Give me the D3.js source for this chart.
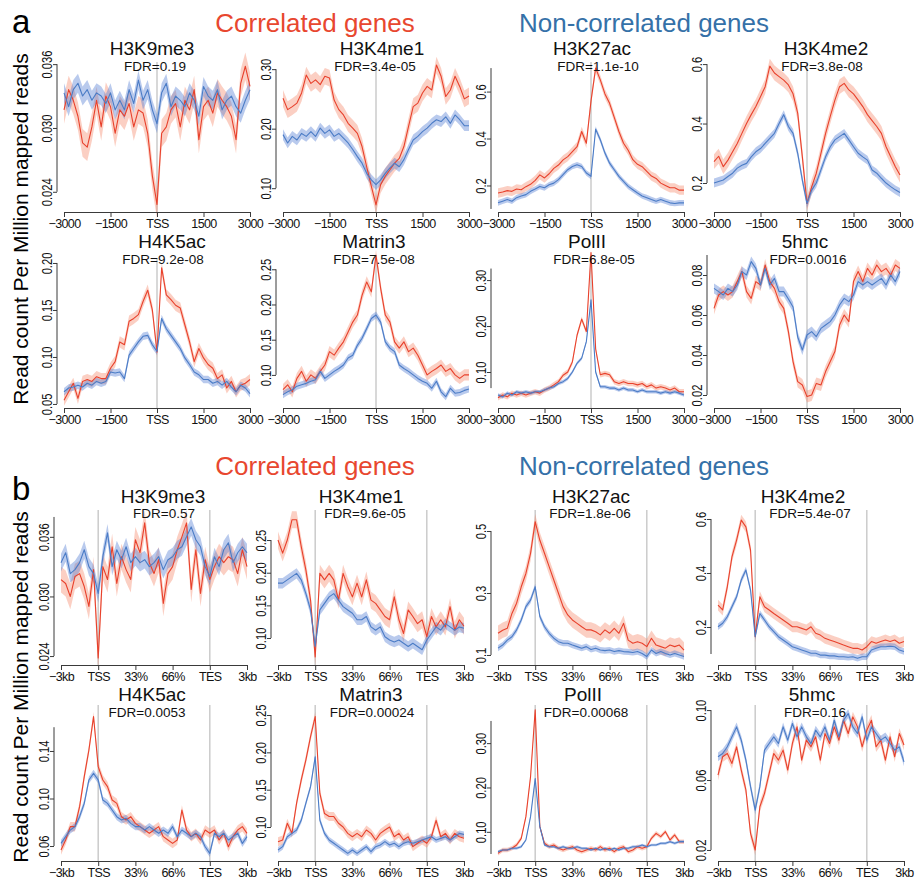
<!DOCTYPE html>
<html>
<head>
<meta charset="utf-8">
<script src="https://cdn.jsdelivr.net/npm/d3@7"></script>
<style>
  body { margin: 0; background: #fff; }
  svg { font-family: "Liberation Sans", Arial, Helvetica, sans-serif; }
</style>
</head>
<body>
<script>
// ---- data -------------------------------------------------------------
const marks = ["H3K9me3", "H3K4me1", "H3K27ac", "H3K4me2", "H4K5ac", "Matrin3", "PolII", "5hmc"];
const fdrA = ["0.19", "3.4e-05", "1.1e-10", "3.8e-08", "9.2e-08", "7.5e-08", "6.8e-05", "0.0016"];
const fdrB = ["0.57", "9.6e-05", "1.8e-06", "5.4e-07", "0.0053", "0.00024", "0.00068", "0.16"];

// bins: a = distance to TSS (bp), b = metagene position (0 = -3kb, 20 = TSS, 80 = TES, 100 = +3kb)
const binsA = [-3000,-2850,-2700,-2550,-2400,-2250,-2100,-1950,-1800,-1650,-1500,-1350,-1200,-1050,-900,-750,-600,-450,-300,-150,0,
  150,300,450,600,750,900,1050,1200,1350,1500,1650,1800,1950,2100,2250,2400,2550,2700,2850,3000];
const binsB = [0,2.5,5,7.5,10,12.5,15,17.5,20,22.5,25,27.5,30,32.5,35,37.5,40,42.5,45,47.5,50,
  52.5,55,57.5,60,62.5,65,67.5,70,72.5,75,77.5,80,82.5,85,87.5,90,92.5,95,97.5,100];

const xTicksA = [-3000, -1500, 0, 1500, 3000];
const xLabelsA = ["\u22123000", "\u22121500", "TSS", "1500", "3000"];
const xTicksB = [0, 20, 40, 60, 80, 100];
const xLabelsB = ["\u22123kb", "TSS", "33%", "66%", "TES", "3kb"];
const guidesA = [0];
const guidesB = [20, 80];

// panel a, correlated (red) and non-correlated (blue) mean profiles
const aRedH3K9me3 = [0.0317,0.0336,0.0326,0.0311,0.0286,0.0282,0.0301,0.0326,0.0301,0.0330,0.0320,0.0295,0.0317,0.0311,0.0323,0.0301,0.0317,0.0314,0.0295,0.0255,0.0228,0.0295,0.0301,0.0317,0.0323,0.0301,0.0326,0.0317,0.0336,0.0289,0.0320,0.0326,0.0314,0.0333,0.0326,0.0320,0.0311,0.0289,0.0342,0.0358,0.0339];
const aBlueH3K9me3 = [0.0333,0.0320,0.0336,0.0342,0.0330,0.0336,0.0326,0.0333,0.0330,0.0323,0.0333,0.0317,0.0326,0.0317,0.0336,0.0323,0.0345,0.0326,0.0336,0.0317,0.0304,0.0333,0.0342,0.0320,0.0330,0.0326,0.0320,0.0333,0.0326,0.0311,0.0339,0.0330,0.0326,0.0336,0.0317,0.0326,0.0330,0.0320,0.0314,0.0326,0.0336];
const aRedH3K4me1 = [0.251,0.232,0.237,0.243,0.260,0.290,0.276,0.282,0.274,0.288,0.285,0.248,0.232,0.223,0.209,0.201,0.192,0.170,0.136,0.103,0.072,0.106,0.120,0.131,0.142,0.150,0.170,0.204,0.237,0.243,0.260,0.271,0.265,0.307,0.288,0.254,0.265,0.288,0.271,0.250,0.255];
const aBlueH3K4me1 = [0.190,0.176,0.187,0.181,0.192,0.187,0.195,0.187,0.201,0.192,0.198,0.187,0.192,0.184,0.176,0.165,0.153,0.142,0.125,0.114,0.106,0.114,0.125,0.134,0.142,0.136,0.148,0.165,0.181,0.187,0.195,0.201,0.209,0.215,0.212,0.220,0.209,0.223,0.215,0.205,0.205];
const aRedH3K27ac = [0.168,0.172,0.178,0.175,0.185,0.182,0.195,0.205,0.222,0.245,0.232,0.250,0.273,0.287,0.309,0.323,0.344,0.365,0.430,0.380,0.560,0.700,0.650,0.590,0.550,0.490,0.430,0.380,0.350,0.310,0.290,0.280,0.260,0.240,0.230,0.210,0.200,0.190,0.190,0.180,0.180];
const aBlueH3K27ac = [0.126,0.133,0.140,0.133,0.148,0.155,0.161,0.175,0.185,0.196,0.190,0.203,0.210,0.225,0.246,0.267,0.281,0.288,0.281,0.253,0.239,0.440,0.395,0.338,0.295,0.267,0.239,0.217,0.196,0.182,0.168,0.155,0.148,0.140,0.133,0.140,0.133,0.126,0.123,0.126,0.126];
const aRedH3K4me2 = [0.272,0.290,0.255,0.277,0.305,0.333,0.367,0.400,0.430,0.457,0.490,0.524,0.593,0.570,0.558,0.546,0.530,0.500,0.435,0.288,0.131,0.187,0.233,0.300,0.367,0.424,0.479,0.524,0.535,0.513,0.500,0.479,0.457,0.430,0.410,0.390,0.367,0.322,0.288,0.255,0.227];
const aBlueH3K4me2 = [0.200,0.205,0.210,0.222,0.233,0.250,0.260,0.266,0.288,0.305,0.316,0.333,0.350,0.367,0.400,0.430,0.390,0.367,0.300,0.210,0.131,0.176,0.200,0.244,0.288,0.322,0.345,0.356,0.367,0.345,0.322,0.300,0.288,0.277,0.244,0.233,0.216,0.200,0.188,0.177,0.168];
const aRedH4K5ac = [0.054,0.063,0.072,0.056,0.074,0.076,0.074,0.079,0.077,0.077,0.088,0.095,0.116,0.113,0.138,0.141,0.145,0.159,0.171,0.150,0.105,0.195,0.166,0.161,0.155,0.152,0.134,0.116,0.095,0.109,0.099,0.092,0.088,0.077,0.081,0.067,0.074,0.063,0.070,0.072,0.076];
const aBlueH4K5ac = [0.063,0.067,0.068,0.070,0.068,0.072,0.070,0.074,0.072,0.074,0.084,0.083,0.084,0.077,0.102,0.109,0.116,0.122,0.123,0.113,0.106,0.141,0.130,0.123,0.116,0.109,0.099,0.092,0.084,0.081,0.076,0.076,0.072,0.074,0.070,0.074,0.068,0.063,0.070,0.067,0.061];
const aRedMatrin3 = [0.079,0.086,0.076,0.095,0.105,0.091,0.100,0.095,0.105,0.114,0.133,0.128,0.138,0.147,0.161,0.175,0.185,0.213,0.232,0.218,0.270,0.223,0.185,0.175,0.147,0.138,0.147,0.133,0.138,0.128,0.114,0.100,0.105,0.109,0.114,0.105,0.109,0.100,0.095,0.100,0.100];
const aBlueMatrin3 = [0.072,0.076,0.079,0.084,0.086,0.088,0.091,0.093,0.105,0.095,0.100,0.105,0.109,0.114,0.124,0.128,0.142,0.152,0.166,0.180,0.185,0.175,0.147,0.138,0.133,0.114,0.109,0.105,0.100,0.095,0.091,0.088,0.081,0.091,0.076,0.069,0.081,0.074,0.075,0.078,0.080];
const aRedPolII = [0.044,0.050,0.046,0.054,0.050,0.054,0.050,0.054,0.057,0.054,0.061,0.065,0.072,0.079,0.093,0.100,0.122,0.180,0.215,0.188,0.360,0.150,0.094,0.097,0.094,0.079,0.075,0.079,0.075,0.075,0.072,0.075,0.068,0.072,0.065,0.068,0.065,0.061,0.065,0.057,0.057];
const aBluePolII = [0.050,0.046,0.054,0.050,0.057,0.054,0.057,0.054,0.057,0.057,0.061,0.065,0.068,0.075,0.079,0.086,0.100,0.119,0.130,0.166,0.257,0.100,0.068,0.068,0.065,0.065,0.061,0.065,0.061,0.061,0.057,0.061,0.057,0.057,0.057,0.054,0.057,0.054,0.057,0.054,0.050];
const aRed5hmc = [0.0633,0.0700,0.0717,0.0700,0.0717,0.0767,0.0817,0.0717,0.0683,0.0767,0.0750,0.0850,0.0767,0.0733,0.0667,0.0633,0.0517,0.0367,0.0267,0.0250,0.0192,0.0200,0.0258,0.0250,0.0317,0.0367,0.0417,0.0550,0.0600,0.0567,0.0767,0.0817,0.0767,0.0833,0.0800,0.0850,0.0817,0.0833,0.0800,0.0850,0.0833];
const aBlue5hmc = [0.0733,0.0717,0.0700,0.0733,0.0717,0.0750,0.0817,0.0800,0.0867,0.0833,0.0750,0.0833,0.0750,0.0783,0.0717,0.0717,0.0680,0.0640,0.0490,0.0425,0.0500,0.0517,0.0492,0.0533,0.0550,0.0567,0.0600,0.0650,0.0683,0.0667,0.0700,0.0767,0.0750,0.0767,0.0750,0.0767,0.0783,0.0750,0.0800,0.0767,0.0817];

// panel b, metagene profiles
const bRedH3K9me3 = [0.0317,0.0313,0.0300,0.0320,0.0323,0.0310,0.0290,0.0327,0.0238,0.0330,0.0317,0.0350,0.0313,0.0340,0.0327,0.0317,0.0357,0.0344,0.0374,0.0334,0.0323,0.0337,0.0293,0.0323,0.0330,0.0347,0.0360,0.0374,0.0307,0.0347,0.0303,0.0337,0.0317,0.0330,0.0340,0.0334,0.0340,0.0337,0.0323,0.0347,0.0330];
const bBlueH3K9me3 = [0.0334,0.0344,0.0323,0.0327,0.0334,0.0347,0.0330,0.0323,0.0303,0.0340,0.0364,0.0330,0.0347,0.0337,0.0350,0.0334,0.0340,0.0334,0.0337,0.0330,0.0334,0.0340,0.0327,0.0337,0.0340,0.0347,0.0350,0.0360,0.0370,0.0357,0.0350,0.0330,0.0320,0.0340,0.0330,0.0347,0.0354,0.0334,0.0344,0.0350,0.0344];
const bRedH3K4me1 = [0.250,0.230,0.250,0.281,0.281,0.240,0.204,0.158,0.071,0.199,0.189,0.199,0.189,0.158,0.199,0.179,0.163,0.184,0.163,0.189,0.158,0.153,0.143,0.133,0.128,0.163,0.128,0.107,0.143,0.133,0.122,0.128,0.102,0.133,0.117,0.128,0.117,0.148,0.112,0.128,0.118];
const bBlueH3K4me1 = [0.184,0.184,0.189,0.194,0.199,0.189,0.168,0.143,0.087,0.143,0.153,0.163,0.168,0.158,0.148,0.143,0.138,0.128,0.128,0.133,0.117,0.112,0.117,0.102,0.097,0.094,0.097,0.092,0.087,0.092,0.087,0.082,0.097,0.107,0.117,0.112,0.122,0.117,0.112,0.117,0.115];
const bRedH3K27ac = [0.170,0.180,0.186,0.234,0.267,0.320,0.363,0.428,0.530,0.470,0.428,0.385,0.342,0.299,0.256,0.229,0.213,0.202,0.191,0.181,0.181,0.175,0.165,0.181,0.170,0.186,0.170,0.202,0.148,0.138,0.143,0.138,0.127,0.154,0.132,0.127,0.122,0.132,0.127,0.132,0.116];
const bBlueH3K27ac = [0.122,0.132,0.148,0.159,0.181,0.213,0.256,0.277,0.320,0.224,0.191,0.170,0.154,0.143,0.138,0.138,0.132,0.127,0.122,0.127,0.118,0.122,0.116,0.114,0.116,0.111,0.114,0.111,0.110,0.108,0.111,0.105,0.095,0.116,0.105,0.111,0.105,0.100,0.105,0.100,0.095];
const bRedH3K4me2 = [0.281,0.263,0.349,0.460,0.522,0.596,0.571,0.485,0.164,0.312,0.275,0.263,0.250,0.238,0.226,0.214,0.201,0.201,0.195,0.189,0.201,0.177,0.170,0.158,0.152,0.146,0.140,0.133,0.127,0.121,0.121,0.115,0.127,0.146,0.140,0.146,0.152,0.146,0.152,0.140,0.146];
const bBlueH3K4me2 = [0.201,0.214,0.238,0.275,0.312,0.374,0.411,0.337,0.164,0.250,0.226,0.201,0.183,0.164,0.152,0.140,0.127,0.121,0.115,0.109,0.103,0.103,0.096,0.096,0.093,0.093,0.090,0.090,0.088,0.090,0.084,0.090,0.090,0.115,0.121,0.127,0.127,0.129,0.127,0.115,0.109];
const bRedH4K5ac = [0.0566,0.0651,0.0763,0.0763,0.0931,0.1184,0.1408,0.1689,0.1268,0.1156,0.1100,0.0987,0.0959,0.0847,0.0819,0.0847,0.0791,0.0763,0.0735,0.0707,0.0735,0.0763,0.0679,0.0651,0.0622,0.0651,0.0903,0.0735,0.0679,0.0707,0.0651,0.0735,0.0707,0.0735,0.0651,0.0707,0.0594,0.0679,0.0735,0.0763,0.0707];
const bBlueH4K5ac = [0.0622,0.0679,0.0735,0.0763,0.0847,0.0959,0.1156,0.1212,0.1156,0.0987,0.0959,0.0903,0.0847,0.0819,0.0833,0.0791,0.0763,0.0763,0.0735,0.0763,0.0735,0.0707,0.0735,0.0707,0.0763,0.0679,0.0735,0.0707,0.0679,0.0707,0.0679,0.0594,0.0538,0.0707,0.0679,0.0707,0.0651,0.0679,0.0707,0.0622,0.0679];
const bRedMatrin3 = [0.0804,0.0826,0.1050,0.0915,0.1320,0.1630,0.1900,0.2210,0.2480,0.1450,0.1180,0.1140,0.1140,0.1050,0.1000,0.0915,0.0870,0.0915,0.0870,0.0960,0.0915,0.0826,0.0915,0.0960,0.1000,0.0870,0.0915,0.0826,0.0870,0.0737,0.0782,0.0826,0.0782,0.0870,0.1090,0.0870,0.0915,0.0826,0.0915,0.0870,0.0850];
const bBlueMatrin3 = [0.0692,0.0737,0.0870,0.0915,0.0960,0.1090,0.1320,0.1540,0.1940,0.1090,0.0915,0.0826,0.0782,0.0737,0.0692,0.0647,0.0692,0.0647,0.0692,0.0737,0.0670,0.0737,0.0759,0.0804,0.0759,0.0782,0.0737,0.0782,0.0804,0.0782,0.0804,0.0826,0.0848,0.0870,0.0826,0.0848,0.0870,0.0826,0.0870,0.0915,0.0900];
const bRedPolII = [0.0515,0.0590,0.0590,0.0628,0.0703,0.0853,0.1342,0.2245,0.3750,0.1117,0.0741,0.0665,0.0703,0.0628,0.0590,0.0628,0.0665,0.0590,0.0553,0.0590,0.0628,0.0590,0.0665,0.0590,0.0628,0.0553,0.0628,0.0665,0.0553,0.0590,0.0665,0.0628,0.0665,0.0853,0.0966,0.0891,0.1004,0.0816,0.0929,0.0778,0.0778];
const bBluePolII = [0.0553,0.0590,0.0590,0.0628,0.0628,0.0665,0.0816,0.1342,0.2200,0.1117,0.0703,0.0665,0.0665,0.0628,0.0665,0.0628,0.0628,0.0665,0.0628,0.0628,0.0590,0.0628,0.0590,0.0628,0.0590,0.0628,0.0590,0.0628,0.0628,0.0665,0.0665,0.0703,0.0665,0.0703,0.0703,0.0741,0.0741,0.0778,0.0741,0.0778,0.0778];
const bRed5hmc = [0.0628,0.0733,0.0752,0.0695,0.0790,0.0657,0.0543,0.0295,0.0200,0.0447,0.0524,0.0638,0.0752,0.0714,0.0771,0.0657,0.0809,0.0904,0.0714,0.0828,0.0790,0.0847,0.0714,0.0866,0.0809,0.0904,0.0828,0.0942,0.0866,0.0961,0.0904,0.0790,0.0885,0.0942,0.0790,0.0828,0.0714,0.0847,0.0733,0.0866,0.0800];
const bBlue5hmc = [0.0733,0.0752,0.0790,0.0847,0.0904,0.0828,0.0714,0.0562,0.0428,0.0562,0.0771,0.0809,0.0847,0.0809,0.0904,0.0828,0.0923,0.0847,0.0904,0.0847,0.0809,0.0885,0.0847,0.0904,0.0828,0.0942,0.0847,0.0942,0.0980,0.0904,0.0866,0.0961,0.0828,0.0904,0.0866,0.0828,0.0847,0.0809,0.0771,0.0790,0.0704];

const redA = [aRedH3K9me3, aRedH3K4me1, aRedH3K27ac, aRedH3K4me2, aRedH4K5ac, aRedMatrin3, aRedPolII, aRed5hmc];
const blueA = [aBlueH3K9me3, aBlueH3K4me1, aBlueH3K27ac, aBlueH3K4me2, aBlueH4K5ac, aBlueMatrin3, aBluePolII, aBlue5hmc];
const redB = [bRedH3K9me3, bRedH3K4me1, bRedH3K27ac, bRedH3K4me2, bRedH4K5ac, bRedMatrin3, bRedPolII, bRed5hmc];
const blueB = [bBlueH3K9me3, bBlueH3K4me1, bBlueH3K27ac, bBlueH3K4me2, bBlueH4K5ac, bBlueMatrin3, bBluePolII, bBlue5hmc];

// standard error (band half width) per panel
const seRedA = [0.0013, 0.014, 0.02, 0.025, 0.006, 0.008, 0.006, 0.003];
const seBlueA = [0.0009, 0.009, 0.012, 0.015, 0.004, 0.005, 0.004, 0.0025];
const seRedB = [0.0013, 0.013, 0.025, 0.02, 0.004, 0.006, 0.005, 0.003];
const seBlueB = [0.0009, 0.008, 0.01, 0.012, 0.003, 0.004, 0.003, 0.0025];

// y axis: labelled ticks, axis line extent, scale domain
const yLabelsA = [["0.024","0.030","0.036"], ["0.10","0.20","0.30"], ["0.2","0.4","0.6"], ["0.2","0.4","0.6"],
  ["0.05","0.10","0.15","0.20"], ["0.10","0.15","0.20","0.25"], ["0.10","0.20","0.30"], ["0.02","0.04","0.06","0.08"]];
const yLabelsB = [["0.024","0.030","0.036"], ["0.10","0.15","0.20","0.25"], ["0.1","0.3","0.5"], ["0.2","0.4","0.6"],
  ["0.06","0.10","0.14"], ["0.10","0.15","0.20","0.25"], ["0.10","0.20","0.30"], ["0.02","0.06","0.10"]];
const yLineA = [[0.024,0.036],[0.10,0.30],[0.1,0.7],[0.2,0.6],[0.05,0.20],[0.10,0.25],[0.065,0.325],[0.02,0.09]];
const yLineB = [[0.024,0.038],[0.10,0.25],[0.1,0.5],[0.1,0.6],[0.06,0.16],[0.10,0.25],[0.05,0.35],[0.02,0.10]];
const yDomA = [[0.0221,0.0362],[0.060,0.312],[0.087,0.726],[0.1025,0.607],[0.0457,0.2053],[0.053,0.266],[0.0217,0.348],[0.0135,0.0885]];
const yDomB = [[0.0231,0.0387],[0.0587,0.296],[0.0677,0.5677],[0.0593,0.6333],[0.0474,0.1787],[0.0545,0.2634],[0.0342,0.386],[0.0137,0.1029]];

// ---- layout -----------------------------------------------------------
const W = 919, H = 881;
const plotW = 186;
const rows = [
  { top: 62, bottom: 212, titleY: 55, fdrY: 70.5 },
  { top: 258, bottom: 408, titleY: 248, fdrY: 264 },
  { top: 510, bottom: 665, titleY: 503, fdrY: 518 },
  { top: 705, bottom: 861, titleY: 701, fdrY: 717 }
];
const x0A = [64, 283, 498, 714];
const x0B = [61, 278, 498, 718];
const titleXA = [152, 382, 592, 826, 172, 374, 587, 805];
const fdrXA = [155, 375, 598, 822, 163, 374, 594, 808];
const titleXB = [163, 361, 591, 803, 152, 371, 583, 812];
const fdrXB = [164, 365, 590, 810, 147, 372, 586, 815];

const RED = "#e8412c", BLUE = "#4b7cc6";
const RED_BAND = "rgba(244,128,98,0.38)", BLUE_BAND = "rgba(80,122,210,0.4)";
const AXIS = "#3a3a3a";

const svg = d3.select("body").append("svg")
  .attr("width", W).attr("height", H);

svg.append("rect").attr("width", W).attr("height", H).attr("fill", "#fff");

function drawPanel(p) {
  const g = svg.append("g");
  const x = d3.scaleLinear().domain([p.bins[0], p.bins[p.bins.length - 1]]).range([p.x0, p.x0 + plotW]);
  const y = d3.scaleLinear().domain(p.dom).range([p.row.bottom, p.row.top]);

  // vertical guides at TSS / TES
  g.selectAll(".guide").data(p.guides).enter().append("line")
    .attr("x1", d => x(d)).attr("x2", d => x(d))
    .attr("y1", p.row.top).attr("y2", p.row.bottom)
    .attr("stroke", "#cbcbcb").attr("stroke-width", 1.5);

  const series = [
    { v: p.red, se: p.seRed, band: RED_BAND, line: RED },
    { v: p.blue, se: p.seBlue, band: BLUE_BAND, line: BLUE }
  ];
  series.forEach(s => {
    const area = d3.area()
      .x((d, i) => x(p.bins[i]))
      .y0(d => y(d - s.se))
      .y1(d => y(d + s.se));
    g.append("path").datum(s.v).attr("d", area).attr("fill", s.band);
  });
  series.forEach(s => {
    const line = d3.line().x((d, i) => x(p.bins[i])).y(d => y(d));
    g.append("path").datum(s.v).attr("d", line)
      .attr("fill", "none").attr("stroke", s.line).attr("stroke-width", 1.1)
      .attr("stroke-linejoin", "round");
  });

  // x axis
  const xa = g.append("g")
    .attr("transform", "translate(0," + p.row.bottom + ")")
    .call(d3.axisBottom(x).tickValues(p.xTicks).tickFormat((d, i) => p.xLabels[i])
      .tickSize(5).tickSizeOuter(0).tickPadding(2));
  xa.select(".domain").attr("stroke", AXIS);
  xa.selectAll(".tick line").attr("stroke", AXIS);
  xa.selectAll("text").attr("font-size", 12.5).attr("letter-spacing", "-0.6px").attr("fill", "#111")
    .attr("font-family", "Liberation Sans, Arial, sans-serif");

  // y axis
  const axX = p.x0 - 7;
  const ya = g.append("g")
    .attr("transform", "translate(" + axX + ",0)")
    .call(d3.axisLeft(y).tickValues(p.yLabels.map(Number)).tickFormat((d, i) => p.yLabels[i])
      .tickSize(4).tickSizeOuter(0));
  ya.select(".domain").remove();
  ya.append("line")
    .attr("x1", 0).attr("x2", 0)
    .attr("y1", y(p.yLine[0])).attr("y2", y(p.yLine[1]))
    .attr("stroke", AXIS);
  ya.selectAll(".tick line").attr("stroke", AXIS);
  ya.selectAll(".tick text")
    .attr("x", null).attr("dy", null)
    .attr("text-anchor", "middle")
    .attr("transform", "translate(-5,0) rotate(-90) scale(0.8,1)")
    .attr("font-size", 14).attr("fill", "#111")
    .attr("font-family", "Liberation Sans, Arial, sans-serif");

  // titles
  g.append("text").attr("x", p.titleX).attr("y", p.row.titleY)
    .attr("text-anchor", "middle").attr("font-size", 19).attr("fill", "#111")
    .text(p.title);
  g.append("text").attr("x", p.fdrX).attr("y", p.row.fdrY)
    .attr("text-anchor", "middle").attr("font-size", 13.5).attr("fill", "#111")
    .text("FDR=" + p.fdr);
}

marks.forEach((m, i) => {
  const col = i % 4, r = i < 4 ? 0 : 1;
  drawPanel({
    row: rows[r], x0: x0A[col], bins: binsA, xTicks: xTicksA, xLabels: xLabelsA, guides: guidesA,
    red: redA[i], blue: blueA[i], seRed: seRedA[i], seBlue: seBlueA[i],
    dom: yDomA[i], yLabels: yLabelsA[i], yLine: yLineA[i],
    title: m, fdr: fdrA[i], titleX: titleXA[i], fdrX: fdrXA[i]
  });
  drawPanel({
    row: rows[r + 2], x0: x0B[col], bins: binsB, xTicks: xTicksB, xLabels: xLabelsB, guides: guidesB,
    red: redB[i], blue: blueB[i], seRed: seRedB[i], seBlue: seBlueB[i],
    dom: yDomB[i], yLabels: yLabelsB[i], yLine: yLineB[i],
    title: m, fdr: fdrB[i], titleX: titleXB[i], fdrX: fdrXB[i]
  });
});

// section letters, group titles, y labels
[["a", 33, 32, 229], ["b", 500, 475, 687]].forEach(([letter, ly, gy, my]) => {
  svg.append("text").attr("x", 12).attr("y", ly).attr("font-size", 33).attr("fill", "#000").text(letter);
  svg.append("text").attr("x", 315).attr("y", gy).attr("text-anchor", "middle")
    .attr("font-size", 26).attr("fill", "#e8472f").text("Correlated genes");
  svg.append("text").attr("x", 644).attr("y", gy).attr("text-anchor", "middle")
    .attr("font-size", 26).attr("fill", "#3571a8").text("Non-correlated genes");
  svg.append("text").attr("transform", "translate(28," + my + ") rotate(-90)")
    .attr("text-anchor", "middle").attr("font-size", 21).attr("fill", "#000")
    .text("Read count Per Million mapped reads");
});
</script>
</body>
</html>
